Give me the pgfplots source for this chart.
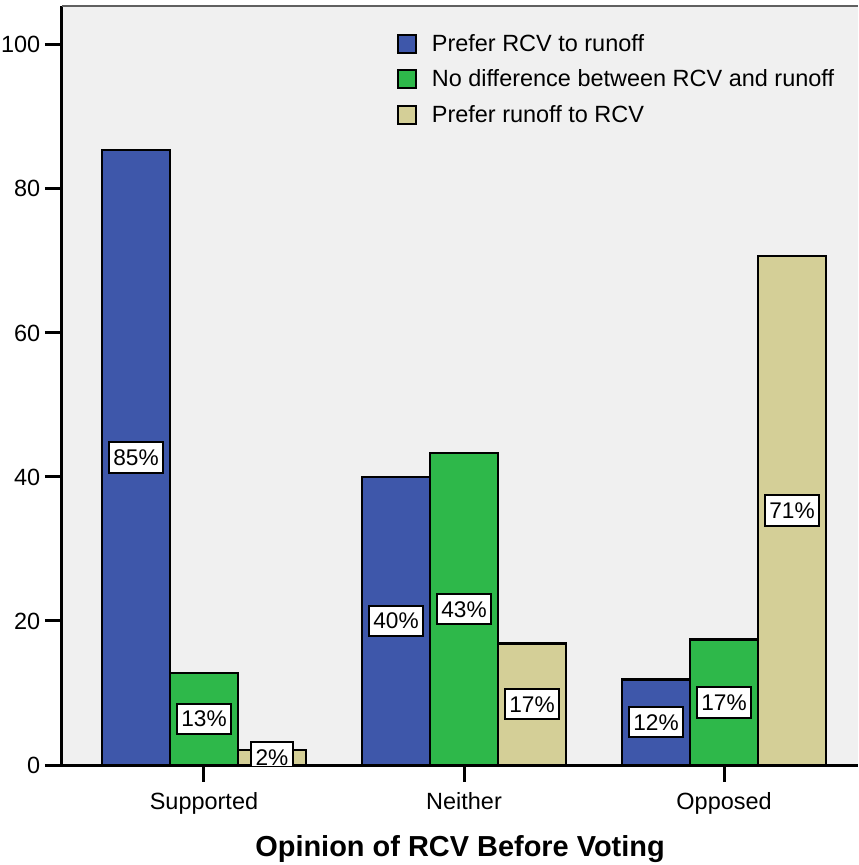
\documentclass[border=0pt]{standalone}
\usepackage{fontspec}
\setmainfont{Liberation Sans}
\usepackage{pgfplots}
\usepackage{pgfplotstable}
\pgfplotsset{compat=1.18}
\definecolor{cblue}{RGB}{62,87,170}
\definecolor{cgreen}{RGB}{46,184,74}
\definecolor{ctan}{RGB}{212,207,151}
\definecolor{bgc}{RGB}{240,240,240}

\pgfplotstableread{
x blue green tan
0 85.4 12.8 2.1
1 40.0 43.3 16.9
2 11.9 17.4 70.7
}\data

\pgfplotsset{
  mybar/.style={ybar, bar width=0.2615, bar shift=#1, draw=black, line width=1.9pt,
    legend image code/.code={\draw[##1, line width=1.4pt] (0pt,-6.75pt) rectangle (13.5pt,6.75pt); \path (22.5pt,0pt);}},
  mylab/.style={draw=none, mark=none, forget plot,
    nodes near coords={\pgfmathprintnumber[fixed,precision=0]{\pgfplotspointmeta}\%},
    point meta=explicit,
    every node near coord/.append style={anchor=center, draw=black, fill=white, line width=1.5pt,
      font=\fontsize{17}{19}\selectfont, inner xsep=3.5pt, inner ysep=5.5pt, text depth=0pt}},
}

\begin{document}
\begin{tikzpicture}
\useasboundingbox (0,0) rectangle (643.5pt,648.75pt);
\begin{axis}[
  at={(46.5pt,75pt)}, anchor=south west,
  width=597pt, height=569.25pt, scale only axis,
  xmin=-0.546, xmax=2.515, ymin=0, ymax=105.4,
  axis x line=bottom, axis y line=left,
  axis line style={-, line width=2.25pt, black},
  xtick={0,1,2}, xticklabels={Supported,Neither,Opposed},
  ytick={0,20,40,60,80,100},
  tick align=outside, major tick length=12.75pt,
  tick style={line width=2.25pt, black},
  axis background/.style={fill=bgc},
  ticklabel style={font=\fontsize{17.6}{21}\selectfont},
  xticklabel style={yshift=-4.5pt},
  /pgf/number format/assume math mode=true,
  clip marker paths=true,
  xlabel={Opinion of RCV Before Voting},
  xlabel style={font=\bfseries\fontsize{21.7}{26}\selectfont, at={(rel axis cs:0.5,0)}, anchor=center, yshift=-63pt},
  legend style={at={(rel axis cs:0.4155,0.97)}, anchor=north west, draw=none, fill=none,
    font=\fontsize{17.6}{21}\selectfont, row sep=8.4pt},
  legend cell align=left,
]
\addplot[mybar=-0.2615, fill=cblue] table[x=x, y=blue]{\data};
\addlegendentry{Prefer RCV to runoff}
\addplot[mybar=0, fill=cgreen] table[x=x, y=green]{\data};
\addlegendentry{No difference between RCV and runoff}
\addplot[mybar=0.2615, fill=ctan] table[x=x, y=tan]{\data};
\addlegendentry{Prefer runoff to RCV}

\addplot[mylab] table[x expr=\thisrow{x}-0.2615, y expr=\thisrow{blue}/2, meta=blue]{\data};
\addplot[mylab] table[x expr=\thisrow{x}, y expr=\thisrow{green}/2, meta=green]{\data};
\addplot[mylab] table[x expr=\thisrow{x}+0.2615, y expr=\thisrow{tan}/2, meta=tan]{\data};

\draw[gray!75!black, line width=1.5pt] (rel axis cs:0,1) -- (rel axis cs:1,1);
\end{axis}
\end{tikzpicture}
\end{document}
